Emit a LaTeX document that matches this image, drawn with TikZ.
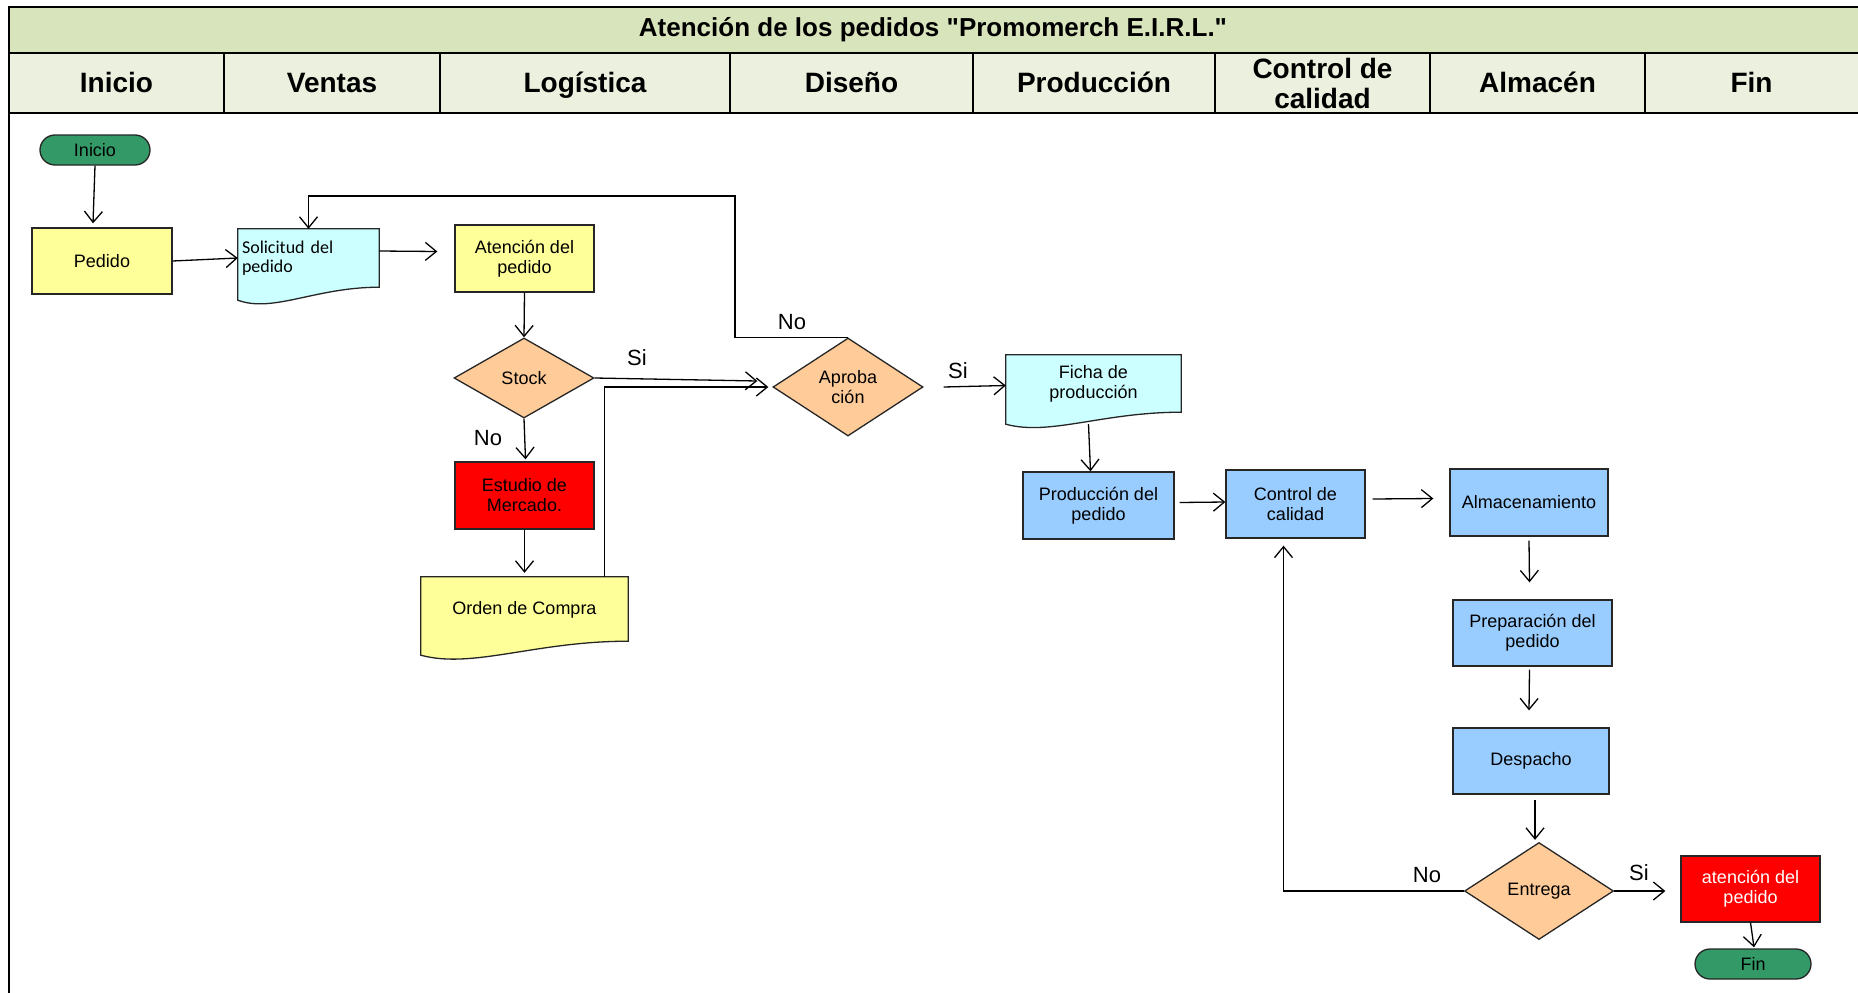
\documentclass[tikz,border=0pt]{standalone}
\usepackage{fontspec}
\setmainfont{Liberation Sans}
\newfontfamily\titlefont{Liberation Sans}[Ligatures=TeXOff]
\newfontfamily\calibri{Carlito}
\usetikzlibrary{arrows.meta,shapes.geometric,calc}

\definecolor{bandgreen}{HTML}{D8E4BC}
\definecolor{cellgreen}{HTML}{EBF1DE}
\definecolor{termgreen}{HTML}{339966}
\definecolor{procyellow}{HTML}{FFFF99}
\definecolor{doccyan}{HTML}{CCFFFF}
\definecolor{decorange}{HTML}{FFCC99}
\definecolor{procblue}{HTML}{99CCFF}
\definecolor{procred}{HTML}{FF0000}

\pgfdeclarelayer{back}
\pgfdeclarelayer{docs}
\pgfsetlayers{back,docs,main}

% document symbol: flat top, wavy bottom (left side hangs lower by #3)
\newcommand{\docwave}[3]{%
  \begin{pgfonlayer}{docs}
    \path[docline, fill=#2] (#1.north west) -- (#1.north east) -- (#1.south east)
      .. controls ($(#1.south east)!0.45!(#1.south west)$)
      and ($(#1.south west)!0.25!(#1.south east)+(0,2*#3)$)
      .. ($(#1.south west)+(0,#3)$) -- cycle;
  \end{pgfonlayer}}

\begin{document}
\begin{tikzpicture}[x=1pt,y=-1pt,
  txt/.style={font=\fontsize{18}{20}\selectfont},
  box/.style={txt, rectangle, draw=black!85, line width=1.3pt, inner sep=2pt, align=center},
  term/.style={box, rounded corners=15pt, fill=termgreen, minimum height=30pt},
  dec/.style={txt, diamond, draw=black!85, line width=1.3pt, fill=decorange, inner sep=0pt, align=center},
  docnode/.style={txt, rectangle, inner sep=4pt, align=center},
  docline/.style={draw=black!85, line width=1.3pt},
  arr/.style={-{Straight Barb[length=11pt,width=18pt]}, line width=1.3pt},
  lbl/.style={font=\fontsize{22}{22}\selectfont},
  hdr/.style={font=\bfseries\fontsize{28}{30}\selectfont, align=center},
  hdrone/.style={hdr, text height=20pt, text depth=1pt},
  frame/.style={line width=2.5pt, draw=black}]

\useasboundingbox (0,0) rectangle (1858,993);
\begin{pgfonlayer}{back}
  \fill[white] (0,0) rectangle (1858,993);
\end{pgfonlayer}

% swimlane header
\fill[bandgreen] (9,7) rectangle (1858,53);
\fill[cellgreen] (9,53) rectangle (1858,113);
\draw[frame] (9,993) -- (9,7) -- (1858,7);
\draw[frame] (9,53) -- (1858,53);
\draw[frame] (9,113) -- (1858,113);
\foreach \xx in {224,440,730,973,1215,1430,1645}
  \draw[frame] (\xx,53) -- (\xx,113);

\node[font=\titlefont\bfseries\fontsize{26}{28}\selectfont] (title) at (933,30) {Atención de los pedidos "Promomerch E.I.R.L."};
\node[hdrone] (hInicio) at (116.5,83) {Inicio};
\node[hdrone] (hVentas) at (332,83) {Ventas};
\node[hdrone] (hLog) at (585,83) {Logística};
\node[hdrone] (hDis) at (851.5,83) {Diseño};
\node[hdrone] (hProd) at (1094,83) {Producción};
\node[hdr] (hCal) at (1322.5,83) {Control de\\calidad};
\node[hdrone] (hAlm) at (1537.5,83) {Almacén};
\node[hdrone] (hFin) at (1751.5,83) {Fin};

% flow nodes
\node[term, minimum width=110pt] (ini) at (95,150) {Inicio};
\node[box, fill=procyellow, minimum width=140pt, minimum height=66pt] (ped) at (102,261) {Pedido};
\node[docnode, minimum width=141pt, minimum height=58pt, text width=133pt, align=left,
      font=\calibri\fontsize{18}{19}\selectfont] (sol) at (308.5,258) {Solicitud del\\pedido};
\docwave{sol}{doccyan}{13}
\node[box, fill=procyellow, minimum width=139pt, minimum height=67pt] (ate) at (524.5,258.5) {Atención del\\pedido};
\node[dec, minimum width=140pt, minimum height=80pt] (sto) at (524,378) {Stock};
\node[box, fill=procred, minimum width=139pt, minimum height=67pt] (est) at (524.5,495.5) {Estudio de\\Mercado.};
\node[docnode, minimum width=207pt, minimum height=64pt, text depth=3pt] (ord) at (524.5,609) {Orden de Compra};
\docwave{ord}{procyellow}{14}
\node[dec, minimum width=150pt, minimum height=98pt] (apr) at (848,387) {Aproba\\ción};
\node[docnode, minimum width=175pt, minimum height=57pt] (fic) at (1093.5,383.5) {Ficha de\\producción};
\docwave{fic}{doccyan}{12}
\node[box, fill=procblue, minimum width=151pt, minimum height=67pt] (pro) at (1098.5,505.5) {Producción del\\pedido};
\node[box, fill=procblue, minimum width=139pt, minimum height=68pt] (con) at (1295.5,504) {Control de\\calidad};
\node[box, fill=procblue, minimum width=158pt, minimum height=67pt] (alm) at (1529,502.5) {Almacenamiento};
\node[box, fill=procblue, minimum width=159pt, minimum height=66pt] (pre) at (1532.5,633) {Preparación del\\pedido};
\node[box, fill=procblue, minimum width=156pt, minimum height=66pt] (des) at (1531,761) {Despacho};
\node[dec, minimum width=149pt, minimum height=97pt] (ent) at (1539,891) {Entrega};
\node[box, fill=procred, text=white, minimum width=139pt, minimum height=66pt] (aten) at (1750.5,889) {atención del\\pedido};
\node[term, minimum width=116pt] (fin) at (1753,964) {Fin};

% connectors
\draw[arr] (ini.south) -- ($(ped.north)+(-9,-4)$);
\draw[arr] (ped.east) -- (sol.west);
\draw[arr] ($(sol.east)+(0,-7)$) -- ($(ate.west)+(-17,-7)$);
\draw[arr] (ate.south) -- (sto.north);
\draw[arr] (sto.east) -- ($(apr.west)+(-15,-6)$);
\node[lbl] (siStock) at (637,358) {Si};
\draw[arr] (sto.south) -- ($(est.north)+(1,-2)$);
\node[lbl] (noStock) at (488,438) {No};
\draw[arr] (est.south) -- ($(ord.north)+(0,-4)$);
\coordinate (ordup) at ($(ord.north)+(80,0)$);
\draw[arr] (ordup) |- ($(apr.west)+(-4,0)$);
\coordinate (loop) at (735,196);
\draw[arr] (apr.north) -| (loop) -| (sol.north);
\node[lbl] (noApr) at (792,322) {No};
\draw[arr] ($(apr.east)+(20,0)$) -- ($(fic.west)+(0,2)$);
\node[lbl] (siApr) at (958,371) {Si};
\draw[arr] ($(fic.south)+(-5,12)$) -- ($(pro.north)+(-8,0)$);
\draw[arr] ($(pro.east)+(5,-3)$) -- ($(con.west)+(0,-2)$);
\draw[arr] ($(con.east)+(7,-5)$) -- ($(alm.west)+(-16,-4)$);
\draw[arr] ($(alm.south)+(0,4)$) -- ($(pre.north)+(-3,-17)$);
\draw[arr] ($(pre.south)+(-3,3)$) -- ($(des.north)+(-2,-17)$);
\draw[arr] ($(des.south)+(4,5)$) -- ($(ent.north)+(-4,-2)$);
\draw[arr] (ent.east) -- ($(aten.west)+(-15,2)$);
\node[lbl] (siEnt) at (1639,873) {Si};
\draw[arr] (ent.west) -| ($(con.south)+(-12,7)$);
\node[lbl] (noEnt) at (1427,875) {No};
\draw[arr] (aten.south) -- ($(fin.north)+(1,-1)$);

\end{tikzpicture}
\end{document}
